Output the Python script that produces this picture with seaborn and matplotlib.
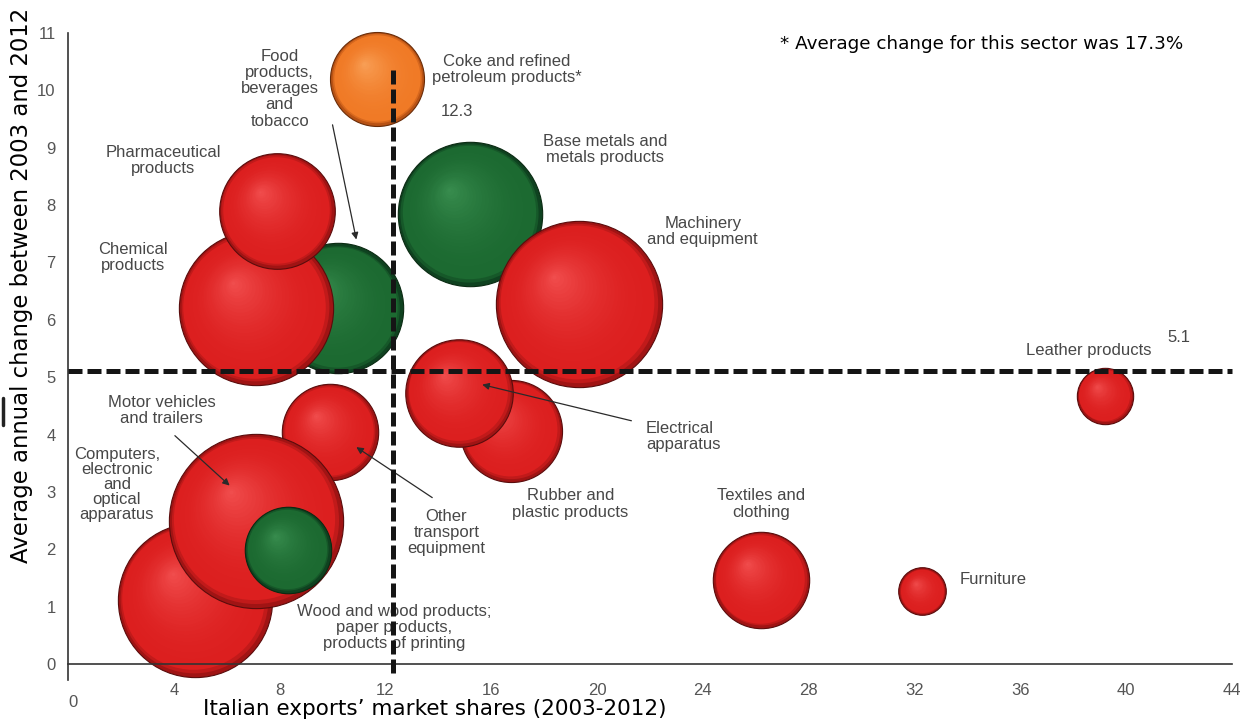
import numpy as np
import matplotlib
matplotlib.use('Agg')
import matplotlib.pyplot as plt
import matplotlib.colors as mcolors
from matplotlib.lines import Line2D
from matplotlib.transforms import ScaledTranslation
import seaborn as sns

# sectors in drawing order (back to front)
sectors = ['Food, beverages and tobacco', 'Chemical products', 'Pharmaceutical products',
           'Base metals and metals products', 'Machinery and equipment',
           'Coke and refined petroleum products', 'Rubber and plastic products',
           'Electrical apparatus', 'Other transport equipment',
           'Computers, electronic and optical apparatus', 'Motor vehicles and trailers',
           'Wood, paper and printing', 'Textiles and clothing', 'Furniture', 'Leather products']
market_share = [10.2, 7.1, 7.9, 15.2, 19.3, 11.7, 16.75, 14.8, 9.9, 4.8, 7.1, 8.3, 26.2, 32.3, 39.2]
annual_change = [6.2, 6.2, 7.9, 7.85, 6.27, 10.2, 4.07, 4.73, 4.05, 1.12, 2.5, 1.99, 1.47, 1.27, 4.68]
weight = [7.5, 10.5, 5.9, 9.2, 12.2, 3.9, 4.6, 5.1, 4.1, 10.5, 13.4, 3.3, 4.1, 1.0, 1.4]
group = ['green', 'red', 'red', 'green', 'red', 'orange', 'red', 'red', 'red',
         'red', 'red', 'green', 'red', 'red', 'red']

avg_share = 12.3
avg_change = 5.1

x_ticks = list(range(0, 45, 4))
y_ticks = list(range(0, 12))

# rim, body, highlight, edge
shades = {
    'red': ('#a01414', '#dc1f1f', '#f25050', '#5a0c0c'),
    'green': ('#0f4220', '#1c6a31', '#3a8f50', '#0a2a12'),
    'orange': ('#b85214', '#f07a26', '#f9a25a', '#6a2c08'),
}

sns.set_theme(style='white')
plt.rcParams['font.family'] = ['Liberation Sans', 'DejaVu Sans']

DPI = 100
fig = plt.figure(figsize=(12.46, 7.22), dpi=DPI)
ax = fig.add_axes([0.0546, 0.0582, 0.934, 0.896])


def layer_color(cols, t):
    rim, body, hi = [np.array(mcolors.to_rgb(c)) for c in cols[:3]]
    if t < 0.06:
        return tuple(rim + (body - rim) * (t / 0.06))
    u = ((t - 0.06) / 0.94) ** 2.0
    return tuple(body + (hi - body) * u)


def draw_bubble(x, y, w, kind, z):
    cols = shades[kind]
    r_px = 23.8 * np.sqrt(w)
    r_pt = r_px * 72 / DPI
    s = (2 * r_pt) ** 2
    sns.scatterplot(x=[x], y=[y], s=s, color=cols[0], edgecolor=cols[3],
                    linewidth=0.8, ax=ax, zorder=z, clip_on=False, legend=False)
    n = 30
    for j in range(1, n):
        f = 1 - j / n
        t = 1 - f
        dx = -0.3 * r_pt * t
        dy = 0.34 * r_pt * t
        tr = ax.transData + ScaledTranslation(dx / 72, dy / 72, fig.dpi_scale_trans)
        ax.scatter([x], [y], s=(2 * r_pt * f - 1.0) ** 2, color=layer_color(cols, t),
                   linewidth=0, transform=tr, zorder=z + j * 0.001, clip_on=False)


for i in range(len(sectors)):
    draw_bubble(market_share[i], annual_change[i], weight[i], group[i], 2 + i * 0.05)

# average lines
ax.plot([0, 44], [avg_change, avg_change], color='#151515', lw=3.6,
        dashes=(2.8, 1.0), zorder=10, clip_on=False)
ax.plot([avg_share, avg_share], [-0.15, 10.45], color='#151515', lw=3.6,
        dashes=(2.8, 1.0), zorder=10, clip_on=False)

ax.set_xlim(0, 44)
ax.set_ylim(-0.28, 11)
ax.set_xticks(x_ticks)
ax.set_yticks(y_ticks)
ax.set_xticklabels([str(v) for v in x_ticks])
ax.set_yticklabels([str(v) for v in y_ticks])
ax.set_xlabel('')
ax.set_ylabel('')
for side in ['top', 'right']:
    ax.spines[side].set_visible(False)
ax.spines['bottom'].set_position(('data', 0))
for side in ['bottom', 'left']:
    ax.spines[side].set_color('#333333')
    ax.spines[side].set_linewidth(1.2)
ax.tick_params(axis='both', colors='#333333', labelcolor='#555555', labelsize=12,
               length=5, width=1.2, direction='out')
ax.tick_params(axis='x', direction='inout', length=7, pad=10)
ax.tick_params(axis='y', pad=4)
ax.set_facecolor('white')

lbl0 = ax.get_xticklabels()[0]
lbl0.set_transform(lbl0.get_transform() + ScaledTranslation(0.05, -0.12, fig.dpi_scale_trans))

# sector labels
txt = dict(color='#474747', fontsize=12, ha='center', va='center',
           linespacing=1.1, zorder=9)
ax.text(8.0, 10.03, 'Food\nproducts,\nbeverages\nand\ntobacco', **txt)
ax.text(3.6, 8.78, 'Pharmaceutical\nproducts', **txt)
ax.text(2.45, 7.08, 'Chemical\nproducts', **txt)
ax.text(16.6, 10.37, 'Coke and refined\npetroleum products*', **txt)
ax.text(14.7, 9.63, '12.3', **txt)
ax.text(20.3, 8.97, 'Base metals and\nmetals products', **txt)
ax.text(24.0, 7.54, 'Machinery\nand equipment', **txt)
ax.text(38.6, 5.46, 'Leather products', **txt)
ax.text(42.0, 5.69, '5.1', **txt)
ax.text(21.85, 3.96, 'Electrical\napparatus', **{**txt, 'ha': 'left'})
ax.text(19.0, 2.79, 'Rubber and\nplastic products', **txt)
ax.text(14.3, 2.29, 'Other\ntransport\nequipment', **txt)
ax.text(26.2, 2.79, 'Textiles and\nclothing', **txt)
ax.text(33.7, 1.47, 'Furniture', **{**txt, 'ha': 'left'})
ax.text(3.55, 4.42, 'Motor vehicles\nand trailers', **txt)
ax.text(1.85, 3.12, 'Computers,\nelectronic\nand\noptical\napparatus', **{**txt, 'linespacing': 1.0})
ax.text(12.34, 0.63, 'Wood and wood products;\npaper products,\nproducts of printing', **txt)

arrow = dict(arrowstyle='-|>', color='#2a2a2a', lw=0.9, mutation_scale=10, shrinkA=0, shrinkB=0)
ax.annotate('', xy=(10.9, 7.4), xytext=(10.0, 9.4), arrowprops=arrow, zorder=9)
ax.annotate('', xy=(6.11, 3.11), xytext=(4.04, 3.98), arrowprops=arrow, zorder=9)
ax.annotate('', xy=(10.9, 3.78), xytext=(13.77, 2.9), arrowprops=arrow, zorder=9)
ax.annotate('', xy=(15.66, 4.87), xytext=(21.3, 4.24), arrowprops=arrow, zorder=9)

fig.text(780 / 1246, 1 - 44 / 722, '* Average change for this sector was 17.3%',
         family='DejaVu Sans', fontsize=13.2, color='black', ha='left', va='center')
fig.text(435 / 1246, 1 - 709 / 722, 'Italian exports\u2019 market shares (2003-2012)',
         family='DejaVu Sans', fontsize=15.5, color='black', ha='center', va='center')
fig.text(22 / 1246, 1 - 285 / 722, 'Average annual change between 2003 and 2012',
         family='DejaVu Sans', fontsize=16.4, color='black', ha='center', va='center',
         rotation=90)
fig.add_artist(Line2D([3 / 1246, 3 / 1246], [1 - 398 / 722, 1 - 425 / 722],
                      color='#222222', lw=2.5))

fig.savefig('out.png', dpi=DPI, facecolor='white')
